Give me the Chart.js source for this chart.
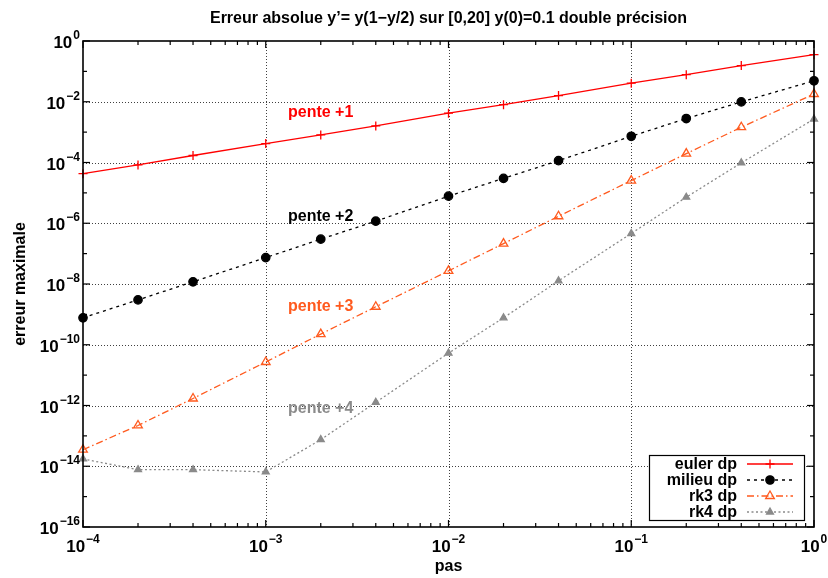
<!DOCTYPE html>
<html>
<head>
<meta charset="utf-8">
<script src="https://cdn.jsdelivr.net/npm/chart.js@4/dist/chart.umd.min.js"></script>
<style>
    html, body { margin: 0; padding: 0; background: #fff; }
    canvas { display: block; }
</style>
</head>
<body>
<canvas id="chart" width="828" height="578"></canvas>
<script>
// pas (step sizes) and max errors
const pas = [1e-4, 2e-4, 4e-4, 1e-3, 2e-3, 4e-3, 1e-2, 2e-2, 4e-2, 0.1, 0.2, 0.4, 1];
const eulerDp = [4.3e-5, 8.3e-5, 1.7e-4, 4.2e-4, 8.1e-4, 1.6e-3, 4.2e-3, 8.0e-3, 1.6e-2, 4.1e-2, 7.8e-2, 0.155, 0.355];
const milieuDp = [7.7e-10, 3.0e-9, 1.18e-8, 7.4e-8, 3.0e-7, 1.17e-6, 7.8e-6, 3.0e-5, 1.15e-4, 7.3e-4, 2.8e-3, 9.9e-3, 4.9e-2];
const rk3Dp = [3.5e-14, 2.2e-13, 1.7e-12, 2.7e-11, 2.25e-10, 1.78e-9, 2.7e-8, 2.14e-7, 1.7e-6, 2.54e-5, 1.96e-4, 1.45e-3, 1.8e-2];
const rk4Dp = [1.74e-14, 7.7e-15, 7.7e-15, 6.5e-15, 7.5e-14, 1.27e-12, 5.3e-11, 7.7e-10, 1.27e-8, 4.6e-7, 7.2e-6, 9.7e-5, 2.7e-3];

const xTickExp = [-4, -3, -2, -1, 0];
const yTickExp = [0, -2, -4, -6, -8, -10, -12, -14, -16];
const yMinorExp = [-1, -3, -5, -7, -9, -11, -13, -15];
const seriesNames = ['euler dp', 'milieu dp', 'rk3 dp', 'rk4 dp'];
const slopeLabels = ['pente +1', 'pente +2', 'pente +3', 'pente +4'];

const FONT = '"Liberation Sans", Arial, sans-serif';
const ORANGE = '#ff5a1e';
const GRAY = '#8a8a8a';

const toPoints = (ys) => pas.map((x, i) => ({ x: x, y: ys[i] }));

const styles = [
    { color: '#ff0000', dash: [], pointStyle: 'cross', radius: 4.5, fill: '#ff0000' },
    { color: '#000000', dash: [3, 4], pointStyle: 'circle', radius: 4.2, fill: '#000000' },
    { color: ORANGE, dash: [7, 3, 1.5, 3], pointStyle: 'triangle', radius: 5, fill: 'rgba(255,255,255,0)' },
    { color: GRAY, dash: [2, 2.5], pointStyle: 'triangle', radius: 4, fill: GRAY },
];

function powerLabel(ctx, exp, x, y, align) {
    const base = '10';
    const sup = exp < 0 ? '\u2212' + -exp : String(exp);
    ctx.font = `bold 17px ${FONT}`;
    const wb = ctx.measureText(base).width;
    ctx.font = `bold 12px ${FONT}`;
    const ws = ctx.measureText(sup).width;
    const left = align === 'right' ? x - wb - ws - 1 : x - (wb + ws + 1) / 2;
    ctx.textAlign = 'left';
    ctx.textBaseline = 'alphabetic';
    ctx.font = `bold 17px ${FONT}`;
    ctx.fillText(base, left, y);
    ctx.font = `bold 12px ${FONT}`;
    ctx.fillText(sup, left + wb + 1, y - 9);
}

const decor = {
    id: 'decor',
    beforeDatasetsDraw(chart) {
        const { ctx, chartArea: a, scales } = chart;
        ctx.save();
        ctx.strokeStyle = 'rgba(0,0,0,0.75)';
        ctx.lineWidth = 1;
        ctx.setLineDash([1, 2]);
        xTickExp.slice(1, -1).forEach((e) => {
            const px = Math.round(scales.x.getPixelForValue(Math.pow(10, e))) + 0.5;
            ctx.beginPath();
            ctx.moveTo(px, a.top);
            ctx.lineTo(px, a.bottom);
            ctx.stroke();
        });
        yTickExp.slice(1, -1).forEach((e) => {
            const py = Math.round(scales.y.getPixelForValue(Math.pow(10, e))) + 0.5;
            ctx.beginPath();
            ctx.moveTo(a.left, py);
            ctx.lineTo(a.right, py);
            ctx.stroke();
        });
        ctx.restore();
    },
    afterDatasetsDraw(chart) {
        const { ctx, chartArea: a, scales } = chart;
        ctx.save();
        // frame
        ctx.strokeStyle = '#000';
        ctx.lineWidth = 1.6;
        ctx.strokeRect(a.left, a.top, a.right - a.left, a.bottom - a.top);

        // tick marks (inside, mirrored)
        ctx.lineWidth = 1.2;
        const tick = (x1, y1, x2, y2) => {
            ctx.beginPath();
            ctx.moveTo(x1, y1);
            ctx.lineTo(x2, y2);
            ctx.stroke();
        };
        xTickExp.forEach((e, i) => {
            const px = scales.x.getPixelForValue(Math.pow(10, e));
            tick(px, a.bottom, px, a.bottom - 7);
            tick(px, a.top, px, a.top + 7);
            if (i < xTickExp.length - 1) {
                for (let k = 2; k <= 9; k++) {
                    const mx = scales.x.getPixelForValue(k * Math.pow(10, e));
                    tick(mx, a.bottom, mx, a.bottom - 4);
                    tick(mx, a.top, mx, a.top + 4);
                }
            }
        });
        yTickExp.forEach((e) => {
            const py = scales.y.getPixelForValue(Math.pow(10, e));
            tick(a.left, py, a.left + 7, py);
            tick(a.right, py, a.right - 7, py);
        });
        yMinorExp.forEach((e) => {
            const py = scales.y.getPixelForValue(Math.pow(10, e));
            tick(a.left, py, a.left + 4, py);
            tick(a.right, py, a.right - 4, py);
        });

        // tick labels
        ctx.fillStyle = '#000';
        xTickExp.forEach((e) => {
            powerLabel(ctx, e, scales.x.getPixelForValue(Math.pow(10, e)), a.bottom + 25, 'center');
        });
        yTickExp.forEach((e) => {
            powerLabel(ctx, e, a.left - 3, scales.y.getPixelForValue(Math.pow(10, e)) + 7, 'right');
        });

        // titles
        ctx.font = `bold 16px ${FONT}`;
        ctx.textAlign = 'center';
        ctx.textBaseline = 'alphabetic';
        ctx.fillText('Erreur absolue y\u2019= y(1\u2212y/2) sur [0,20] y(0)=0.1 double pr\u00e9cision', (a.left + a.right) / 2, 23);
        ctx.fillText('pas', (a.left + a.right) / 2, 571);
        ctx.save();
        ctx.translate(25, (a.top + a.bottom) / 2);
        ctx.rotate(-Math.PI / 2);
        ctx.fillText('erreur maximale', 0, 0);
        ctx.restore();

        // slope annotations
        const slopeColors = ['#ff0000', '#000000', ORANGE, GRAY];
        const slopeY = [117, 221, 311, 413];
        ctx.textAlign = 'left';
        slopeLabels.forEach((t, i) => {
            ctx.fillStyle = slopeColors[i];
            ctx.fillText(t, 288, slopeY[i]);
        });

        // legend
        ctx.fillStyle = '#fff';
        ctx.fillRect(649, 455, 155, 65);
        ctx.strokeStyle = '#000';
        ctx.lineWidth = 1.2;
        ctx.setLineDash([]);
        ctx.strokeRect(649.5, 455.5, 155, 65);
        const rowY = [464, 480, 496, 512];
        seriesNames.forEach((name, i) => {
            const s = styles[i];
            ctx.fillStyle = '#000';
            ctx.textAlign = 'right';
            ctx.textBaseline = 'middle';
            ctx.font = `bold 16px ${FONT}`;
            ctx.fillText(name, 737, rowY[i] + 1);
            ctx.strokeStyle = s.color;
            ctx.lineWidth = 1.3;
            ctx.setLineDash(s.dash);
            tick(747, rowY[i], 793, rowY[i]);
            ctx.setLineDash([]);
            ctx.fillStyle = s.fill;
            Chart.helpers.drawPoint(ctx, { pointStyle: s.pointStyle, radius: s.radius, rotation: 0, borderWidth: 1.3 }, 770, rowY[i]);
        });
        ctx.restore();
    },
};

new Chart(document.getElementById('chart'), {
    type: 'line',
    data: {
        datasets: [eulerDp, milieuDp, rk3Dp, rk4Dp].map((ys, i) => ({
            label: seriesNames[i],
            data: toPoints(ys),
            borderColor: styles[i].color,
            borderWidth: 1.3,
            borderDash: styles[i].dash,
            pointStyle: styles[i].pointStyle,
            pointRadius: styles[i].radius,
            pointBorderColor: styles[i].color,
            pointBackgroundColor: styles[i].fill,
            pointBorderWidth: 1.3,
            tension: 0,
            clip: false,
        })),
    },
    options: {
        responsive: false,
        animation: false,
        devicePixelRatio: 1,
        layout: { padding: { left: 83, top: 41, right: 14, bottom: 51 } },
        scales: {
            x: { type: 'logarithmic', min: 1e-4, max: 1, display: false },
            y: { type: 'logarithmic', min: 1e-16, max: 1, display: false },
        },
        plugins: {
            legend: { display: false },
            title: { display: false },
            tooltip: { enabled: false },
        },
    },
    plugins: [decor],
});
</script>
</body>
</html>
